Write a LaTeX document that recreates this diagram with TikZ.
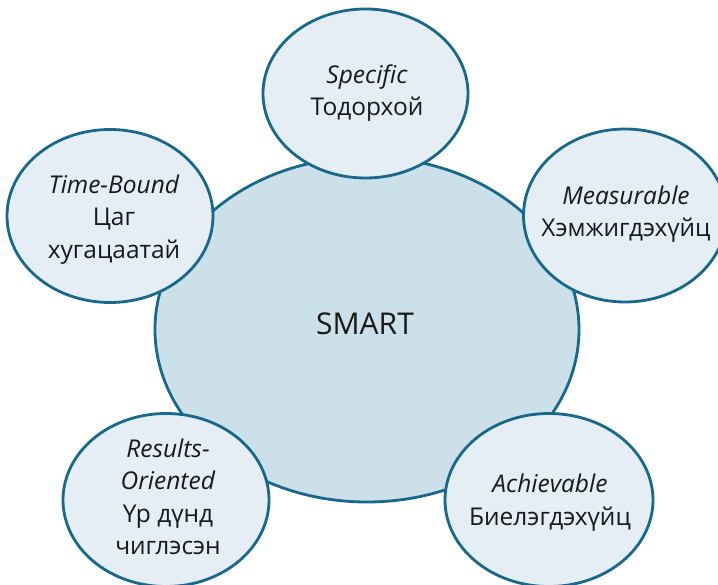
\documentclass[tikz,border=0pt]{standalone}
\usepackage{fontspec}
\setmainfont{Open Sans}
\usetikzlibrary{shapes.geometric}
\definecolor{edgeblue}{RGB}{24,104,142}
\definecolor{bigfill}{RGB}{204,224,233}
\definecolor{smallfill}{RGB}{228,238,244}
\tikzset{
  blob/.style={ellipse, draw=edgeblue, line width=2.8pt, fill=smallfill, inner sep=0pt,
    minimum width=206pt, minimum height=173pt},
  bigblob/.style={ellipse, draw=edgeblue, line width=2.8pt, fill=bigfill, inner sep=0pt,
    minimum width=424pt, minimum height=345pt},
  lbl/.style={align=center, inner sep=0pt, text=black!90, font=\fontsize{24.5}{32.5}\selectfont},
}
\begin{document}
\begin{tikzpicture}[x=1pt,y=-1pt]
\clip (0,0) rectangle (718,585);
\fill[white] (0,0) rectangle (718,585);
\node[bigblob] (smart) at (367,329.5) {};
\node[blob, minimum width=205pt, minimum height=169pt] (spec) at (365.5,93.5) {};
\node[blob, minimum width=203pt] (meas) at (625,215.5) {};
\node[blob] (time) at (110,216) {};
\node[blob] (res) at (166,500) {};
\node[blob, minimum width=208pt] (ach) at (549,500) {};
\node[inner sep=0pt, text=black!90, font=\fontsize{30}{36}\selectfont] (smartT) at (365,324) {SMART};
\node[lbl] (specT) at (367,93) {\textit{Specific}\\Тодорхой};
\node[lbl] (measT) at (626,214) {\textit{Measurable}\\Хэмжигдэхүйц};
\node[lbl] (timeT) at (114,219.5) {\textit{Time-Bound}\\Цаг\\хугацаатай};
\node[lbl] (resT) at (168,497) {\textit{Results-}\\\textit{Oriented}\\Үр дүнд\\чиглэсэн};
\node[lbl] (achT) at (550,502.5) {\textit{Achievable}\\Биелэгдэхүйц};
\end{tikzpicture}
\end{document}
